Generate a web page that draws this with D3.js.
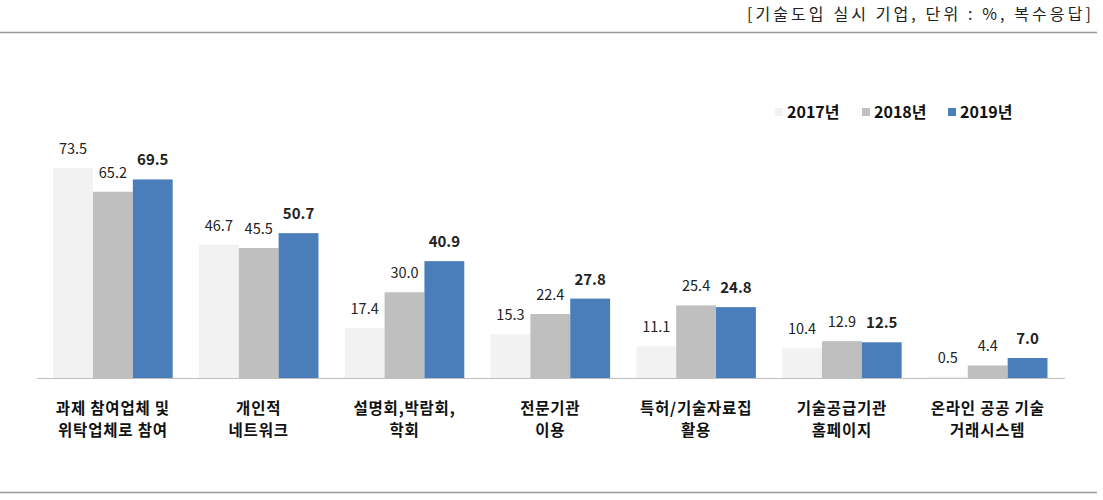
<!DOCTYPE html>
<html><head><meta charset="utf-8">
<script src="https://cdn.jsdelivr.net/npm/d3@7"></script>
<style>body{margin:0;background:#fff}svg{display:block}text{font-family:"Noto Sans CJK KR","Malgun Gothic",sans-serif}</style>
</head><body><svg id="c" width="1103" height="500"></svg>
<script>
const categories = [["과제 참여업체 및","위탁업체로 참여"],["개인적","네트워크"],["설명회,박람회,","학회"],["전문기관","이용"],["특허/기술자료집","활용"],["기술공급기관","홈페이지"],["온라인 공공 기술","거래시스템"]];
const seriesNames = ["2017년","2018년","2019년"];
const v2017 = [73.5,46.7,17.4,15.3,11.1,10.4,0.5];
const v2018 = [65.2,45.5,30.0,22.4,25.4,12.9,4.4];
const v2019 = [69.5,50.7,40.9,27.8,24.8,12.5,7.0];
const colors = ["#f2f2f2","#bfbfbf","#4a7ebb"];
const note = "[기술도입 실시 기업, 단위 : %, 복수응답]";

const svg = d3.select("#c");
const series = [v2017,v2018,v2019];
const x0 = d3.scaleBand().domain(d3.range(categories.length)).range([40,1060.6]).paddingInner(0.18).paddingOuter(0.09);
const x1 = d3.scaleBand().domain(d3.range(3)).range([0,x0.bandwidth()]);
const y = d3.scaleLinear().domain([0,80]).range([378,378-80*2.857]);

svg.append("line").attr("x1",0).attr("x2",1097).attr("y1",32.5).attr("y2",32.5).attr("stroke","#999").attr("stroke-width",1.5);
svg.append("line").attr("x1",0).attr("x2",1097).attr("y1",492.5).attr("y2",492.5).attr("stroke","#999").attr("stroke-width",1.5);
svg.append("text").attr("x",1094).attr("y",20).attr("text-anchor","end").attr("font-size",16).attr("fill","#222").attr("letter-spacing","3.1px").text(note);

categories.forEach((c,i)=>{
  series.forEach((s,j)=>{
    const bx = x0(i)+x1(j);
    svg.append("rect").attr("x",bx).attr("y",y(s[i])).attr("width",x1.bandwidth()).attr("height",y(0)-y(s[i])).attr("fill",colors[j]);
    svg.append("text").attr("x",bx+x1.bandwidth()/2).attr("y",y(s[i])-14).attr("text-anchor","middle")
      .attr("font-size",j==2?15:14.5).attr("font-weight",j==2?"bold":"normal").attr("fill","#222").text(s[i].toFixed(1));
  });
  const t = svg.append("text").attr("x",x0(i)+x0.bandwidth()/2).attr("y",414).attr("text-anchor","middle").attr("font-size",15.5).attr("font-weight","bold").attr("letter-spacing","0.8px").attr("fill","#111");
  c.forEach((l,k)=>t.append("tspan").attr("x",x0(i)+x0.bandwidth()/2).attr("dy",k?22:0).text(l));
});
svg.append("line").attr("x1",37).attr("x2",1065).attr("y1",378.5).attr("y2",378.5).attr("stroke","#bfbfbf").attr("stroke-width",1);

const legX = [775,862,948];
seriesNames.forEach((n,j)=>{
  svg.append("rect").attr("x",legX[j]).attr("y",108).attr("width",8).attr("height",8).attr("fill",colors[j]);
  svg.append("text").attr("x",legX[j]+12).attr("y",118).attr("font-size",16).attr("font-weight","bold").attr("fill","#111").text(n);
});
</script></body></html>
